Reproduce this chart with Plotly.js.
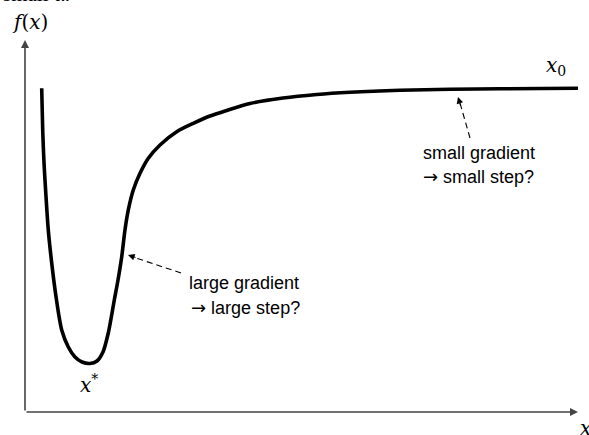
<!DOCTYPE html>
<html><head><meta charset="utf-8">
<script src="https://cdn.plot.ly/plotly-3.0.1.min.js"></script>
<style>html,body{margin:0;padding:0;background:#fff}</style>
</head><body><div id="chart" style="width:589px;height:435px"></div>
<script>
// curve f(x) (abstract units: x from 0 to 10, f from 0 to ~10)
const xVals = [0.302,0.320,0.344,0.380,0.421,0.483,0.561,0.664,0.783,0.904,1.031,1.175,1.302,1.410,1.506,1.615,1.682,1.749,1.808,1.868,1.958,2.080,2.230,2.441,2.743,3.043,3.345,3.647,4.069,4.665,5.275,5.877,6.781,7.685,8.590,10.0];
const fVals = [9.991,8.704,7.685,6.645,5.617,4.599,3.559,2.531,2.006,1.698,1.543,1.497,1.574,1.852,2.438,3.457,4.074,4.793,5.617,6.235,6.852,7.367,7.830,8.241,8.651,8.910,9.136,9.306,9.522,9.691,9.799,9.867,9.929,9.960,9.975,9.991];
const axisEnd = {x: 10.0, f: 11.48};
const textTop = 'small α.';
const yLabel = '<i>f</i>(<i>x</i>)';
const xLabel = '<i>x</i>';
const minLabel = '<i>x</i><sup>*</sup>';
const startLabel = '<i>x</i><sub>0</sub>';
const arrowGlyph = '<span style="font-family:DejaVu Sans">→</span>';
const smallLines = ['small gradient', arrowGlyph + ' small step?'];
const largeLines = ['large gradient', arrowGlyph + ' large step?'];

const W = 589, H = 435;
const PX = p => p / W, PY = p => 1 - p / H;
const serif = {family: 'DejaVu Serif, Liberation Serif, serif', size: 20, color: '#000'};
const sans = {family: 'Liberation Sans, Arial, sans-serif', size: 18, color: '#000'};

function txt(t, x, y, font, xa, ya) {
  return {text: t, x: PX(x), y: PY(y), xref: 'paper', yref: 'paper', showarrow: false,
          xanchor: xa || 'center', yanchor: ya || 'middle', font: font};
}
function head(x, y, dx, dy) {
  return {text: '', x: PX(x), y: PY(y), xref: 'paper', yref: 'paper', showarrow: true,
          ax: dx, ay: dy, arrowhead: 2, arrowsize: 1.2, arrowwidth: 1.1, arrowcolor: '#000', standoff: 0};
}

const annotations = [
  txt(textTop, 1, -6, {family: 'Liberation Serif, serif', size: 21, color: '#000'}, 'left', 'middle'),
  txt(yLabel, 30, 22, serif),
  txt(xLabel, 578, 428, serif, 'left'),
  txt(minLabel, 89, 384, serif),
  txt(startLabel, 556, 66, serif),
  txt(smallLines[0], 421, 153, sans, 'left'),
  txt(smallLines[1], 421, 176, sans, 'left'),
  txt(largeLines[0], 187, 283, sans, 'left'),
  txt(largeLines[1], 189, 307, sans, 'left'),
  head(458, 97, 3, 10),
  head(128, 255, 9, 3),
  // axes with arrowheads
  {x: axisEnd.x, y: 0, ax: 0, ay: 0, xref: 'x', yref: 'y', axref: 'x', ayref: 'y', text: '', showarrow: true,
   arrowhead: 2, arrowsize: 1, arrowwidth: 1.6, arrowcolor: '#444', standoff: 0},
  {x: 0, y: axisEnd.f, ax: 0, ay: 0, xref: 'x', yref: 'y', axref: 'x', ayref: 'y', text: '', showarrow: true,
   arrowhead: 2, arrowsize: 1, arrowwidth: 1.6, arrowcolor: '#444', standoff: 0}
];

const shapes = [
  {type: 'line', xref: 'paper', yref: 'paper', x0: PX(470), y0: PY(138), x1: PX(460), y1: PY(103),
   line: {color: '#000', width: 1.1, dash: '6px,4px'}},
  {type: 'line', xref: 'paper', yref: 'paper', x0: PX(181), y0: PY(273), x1: PX(136), y1: PY(258),
   line: {color: '#000', width: 1.1, dash: '6px,4px'}}
];

const trace = {x: xVals, y: fVals, type: 'scatter', mode: 'lines',
  line: {color: '#000', width: 3.6, shape: 'spline', smoothing: 0.8}, hoverinfo: 'skip'};

const layout = {
  width: W, height: H, margin: {l: 0, r: 0, t: 0, b: 0},
  paper_bgcolor: '#fff', plot_bgcolor: '#fff', showlegend: false,
  xaxis: {range: [-0.4521, 10.199], visible: false, fixedrange: true},
  yaxis: {range: [-0.7099, 12.716], visible: false, fixedrange: true},
  annotations: annotations, shapes: shapes
};
Plotly.newPlot('chart', [trace], layout, {staticPlot: true, displayModeBar: false});
</script></body></html>
